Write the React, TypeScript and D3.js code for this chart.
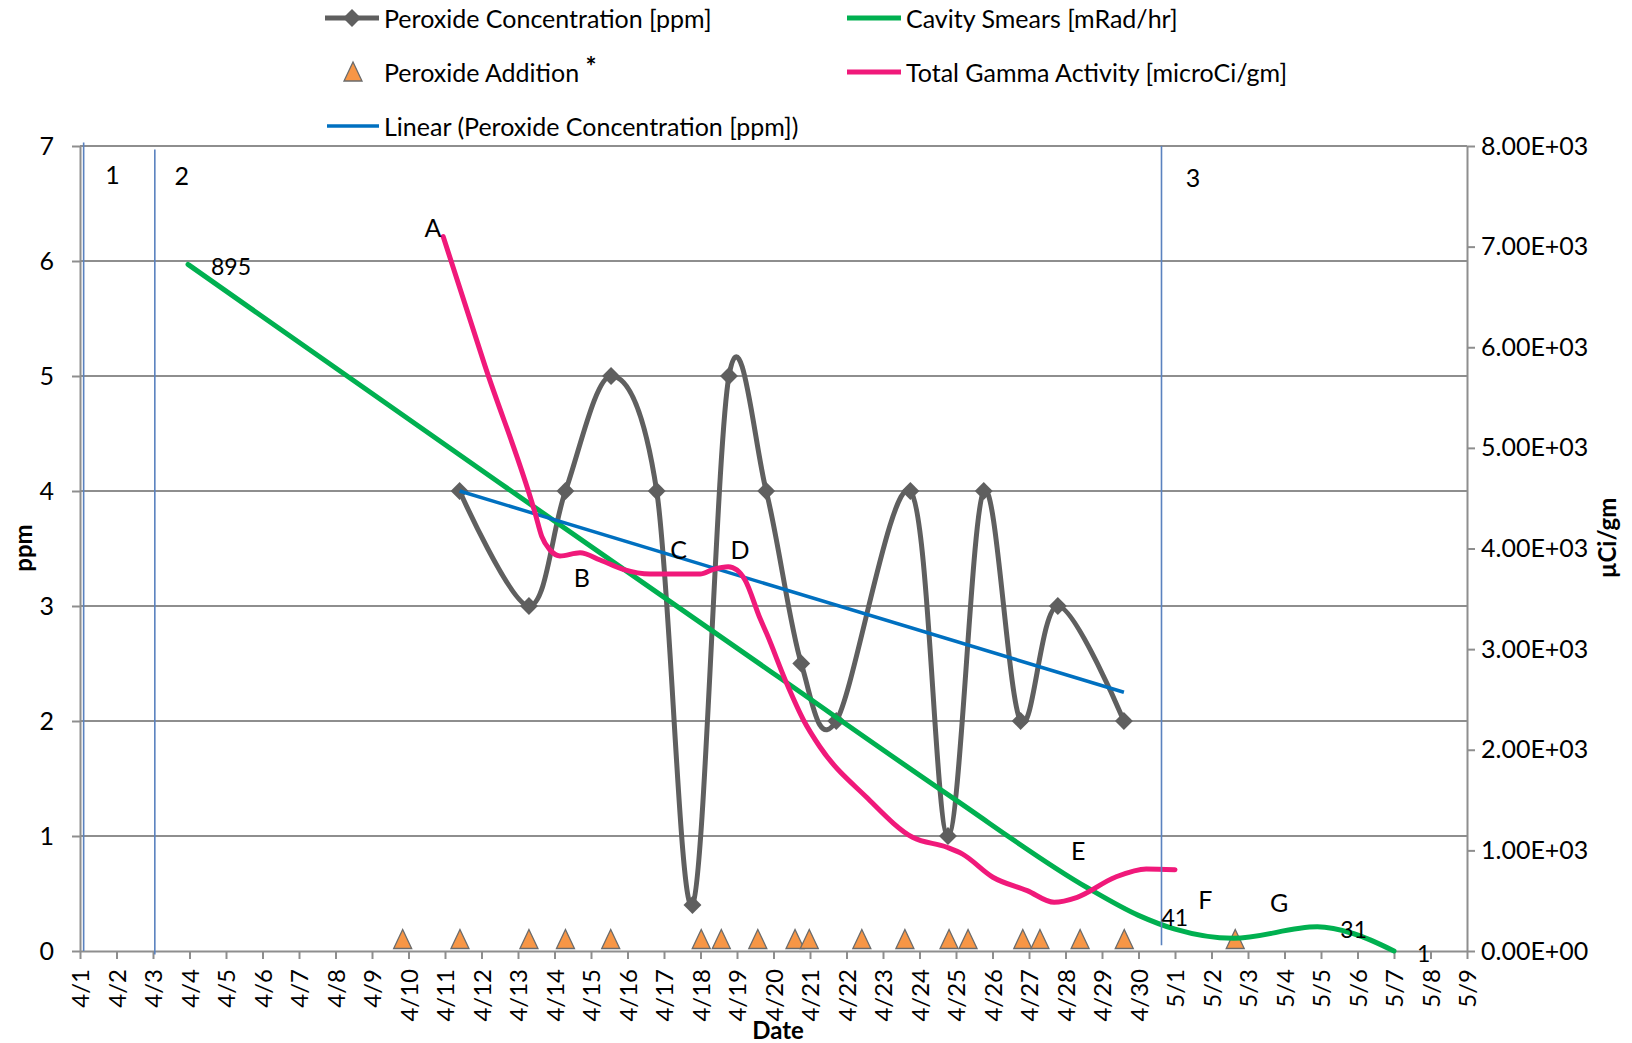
import { useEffect, useRef } from "react";
import * as d3 from "d3";

// x values are days since 4/1 (fractional = time of day)
const dayLabels = [
  "4/1", "4/2", "4/3", "4/4", "4/5", "4/6", "4/7", "4/8", "4/9", "4/10",
  "4/11", "4/12", "4/13", "4/14", "4/15", "4/16", "4/17", "4/18", "4/19", "4/20",
  "4/21", "4/22", "4/23", "4/24", "4/25", "4/26", "4/27", "4/28", "4/29", "4/30",
  "5/1", "5/2", "5/3", "5/4", "5/5", "5/6", "5/7", "5/8", "5/9",
];
const ppmTicks = [0, 1, 2, 3, 4, 5, 6, 7];
const gammaTicks = [0, 1000, 2000, 3000, 4000, 5000, 6000, 7000, 8000];

// Peroxide Concentration [ppm]
const peroxideConc: [number, number][] = [
  [10.4, 4], [12.3, 3], [13.3, 4], [14.55, 5], [15.8, 4], [16.78, 0.4],
  [17.78, 5], [18.8, 4], [19.76, 2.5], [20.72, 2], [22.75, 4], [23.78, 1],
  [24.76, 4], [25.77, 2], [26.79, 3], [28.6, 2],
];

// Linear (Peroxide Concentration [ppm]) end points
const peroxideTrend: [number, number][] = [[10.4, 4.0], [28.6, 2.25]];

// Peroxide Addition * (days), drawn at a fixed level
const peroxideAdditions = [
  8.84, 10.41, 12.3, 13.3, 14.54, 17.02, 17.57, 18.57, 19.59, 19.98,
  21.42, 22.6, 23.81, 24.33, 25.83, 26.3, 27.4, 28.61, 31.65,
];
const additionLevel = 0.1;

// Cavity Smears [mRad/hr], drawn against the ppm axis
const cavitySmears: [number, number][] = [
  [2.96, 5.97], [11.5, 4.07], [19.15, 2.38], [23.87, 1.34], [27.6, 0.55],
  [29.0, 0.31], [30.0, 0.19], [31.6, 0.11], [33.9, 0.21], [34.9, 0.15], [36.0, 0.0],
];
const cavitySmearLabels = [
  { at: 0, text: "895" },
  { at: 5, text: "41" },
  { at: 8, text: "31" },
  { at: 10, text: "1" },
];

// Total Gamma Activity [microCi/gm]
const gammaActivity: [number, number][] = [
  [9.95, 7100], [11.1, 5810], [12.47, 4350], [12.65, 4120], [12.88, 3985],
  [13.15, 3926], [13.7, 3958], [14.25, 3886], [14.88, 3793], [15.62, 3747],
  [16.99, 3747], [17.35, 3793], [17.76, 3819], [18.0, 3786], [18.22, 3687],
  [18.63, 3306], [18.81, 3157], [19.36, 2660], [19.82, 2296], [20.27, 2030],
  [21.55, 1528], [22.81, 1130], [23.75, 1031], [24.17, 965], [25.01, 733],
  [25.95, 600], [26.69, 484], [27.32, 534], [28.36, 733], [29.21, 816], [30.0, 808],
];

// period separators (day, ppm top, ppm bottom) and their labels
const periodLines = [
  { day: 0.1, top: 7.03, bottom: 0 },
  { day: 2.05, top: 6.97, bottom: -0.03 },
  { day: 29.63, top: 7.0, bottom: 0.05 },
];
const periodLabels = [
  { text: "1", day: 0.89, ppm: 6.76 },
  { text: "2", day: 2.79, ppm: 6.75 },
  { text: "3", day: 30.49, ppm: 6.73 },
];
const eventLabels = [
  { text: "A", day: 9.67, ppm: 6.3 },
  { text: "B", day: 13.75, ppm: 3.25 },
  { text: "C", day: 16.4, ppm: 3.5 },
  { text: "D", day: 18.08, ppm: 3.5 },
  { text: "E", day: 27.35, ppm: 0.88 },
  { text: "F", day: 30.83, ppm: 0.45 },
  { text: "G", day: 32.85, ppm: 0.43 },
];

const W = 1632;
const H = 1043;
const FONT = "Lato, 'Open Sans', sans-serif";
const GRID = "#8e8e8e";
const GRAY = "#5f5f5f";
const GREEN = "#00b050";
const PINK = "#f0197a";
const BLUE = "#0070c0";
const SEP = "#5a82bf";
const ORANGE = "#f79646";

function sci(v: number) {
  if (v === 0) return "0.00E+00";
  const e = Math.floor(Math.log10(v));
  const m = v / Math.pow(10, e);
  return `${m.toFixed(2)}E+${String(e).padStart(2, "0")}`;
}

export default function App() {
  const svgRef = useRef<SVGSVGElement>(null);

  useEffect(() => {
    if (!svgRef.current) return;
    const svg = d3.select(svgRef.current);
    svg.selectAll("*").remove();

    const margin = { top: 146, right: 165, bottom: 92, left: 80 };
    const x = d3.scaleLinear().domain([0, dayLabels.length - 1]).range([margin.left, W - margin.right]);
    const y = d3.scaleLinear().domain([0, 7]).range([H - margin.bottom, margin.top]);
    const y2 = d3.scaleLinear().domain([0, 8000]).range([H - margin.bottom, margin.top]);

    svg.append("rect").attr("width", W).attr("height", H).attr("fill", "#fff");

    // horizontal gridlines
    svg.append("g")
      .selectAll("line")
      .data(ppmTicks.slice(1))
      .join("line")
      .attr("x1", x(0)).attr("x2", x(dayLabels.length - 1))
      .attr("y1", d => y(d)).attr("y2", d => y(d))
      .attr("stroke", GRID).attr("stroke-width", 2);

    const styleAxis = (sel: d3.Selection<SVGGElement, unknown, null, undefined>, size: number) => {
      sel.attr("font-family", FONT).attr("font-size", size);
      sel.select(".domain").attr("stroke", GRID).attr("stroke-width", 2);
      sel.selectAll(".tick line").attr("stroke", GRID).attr("stroke-width", 2);
      sel.selectAll(".tick text").attr("fill", "#000");
    };

    const left = svg.append("g")
      .attr("transform", `translate(${margin.left},0)`)
      .call(d3.axisLeft(y).tickValues(ppmTicks).tickSize(8).tickSizeOuter(0).tickPadding(18).tickFormat(d3.format("d")));
    styleAxis(left, 25);

    const right = svg.append("g")
      .attr("transform", `translate(${W - margin.right},0)`)
      .call(d3.axisRight(y2).tickValues(gammaTicks).tickSize(8).tickSizeOuter(0).tickPadding(6).tickFormat(d => sci(d as number)));
    styleAxis(right, 25);

    const bottom = svg.append("g")
      .attr("transform", `translate(0,${H - margin.bottom})`)
      .call(d3.axisBottom(x).tickValues(d3.range(dayLabels.length)).tickSize(8).tickSizeOuter(0).tickFormat(i => dayLabels[i as number]));
    styleAxis(bottom, 24);
    bottom.selectAll(".tick text")
      .attr("transform", "rotate(-90)")
      .attr("text-anchor", "end")
      .attr("x", -18)
      .attr("y", 0)
      .attr("dy", "0.36em");

    // axis titles
    svg.append("text")
      .attr("transform", `translate(22,548) rotate(-90)`)
      .attr("text-anchor", "middle").attr("dominant-baseline", "central")
      .attr("font-family", FONT).attr("font-size", 24).attr("font-weight", "bold")
      .text("ppm");
    svg.append("text")
      .attr("transform", `translate(1606,538) rotate(-90)`)
      .attr("text-anchor", "middle").attr("dominant-baseline", "central")
      .attr("font-family", FONT).attr("font-size", 24).attr("font-weight", "bold")
      .text("µCi/gm");
    svg.append("text")
      .attr("x", 778).attr("y", 1029)
      .attr("text-anchor", "middle").attr("dominant-baseline", "central")
      .attr("font-family", FONT).attr("font-size", 24).attr("font-weight", "bold")
      .text("Date");

    // Peroxide Concentration (smoothed)
    const concLine = d3.line<[number, number]>()
      .x(d => x(d[0])).y(d => y(d[1]))
      .curve(d3.curveCatmullRom.alpha(0));
    svg.append("path")
      .datum(peroxideConc)
      .attr("fill", "none").attr("stroke", GRAY).attr("stroke-width", 5)
      .attr("d", concLine);

    const diamond = d3.symbol(d3.symbolSquare, 160);
    svg.append("g")
      .selectAll("path")
      .data(peroxideConc)
      .join("path")
      .attr("transform", d => `translate(${x(d[0])},${y(d[1])}) rotate(45)`)
      .attr("d", diamond)
      .attr("fill", GRAY);

    // Peroxide additions
    svg.append("g")
      .selectAll("path")
      .data(peroxideAdditions)
      .join("path")
      .attr("d", d => {
        const cx = x(d);
        const cy = y(additionLevel);
        return `M${cx},${cy - 10}L${cx + 9},${cy + 9}L${cx - 9},${cy + 9}Z`;
      })
      .attr("fill", ORANGE).attr("stroke", "#6b6b6b").attr("stroke-width", 1.3);

    // Cavity smears
    const smearLine = d3.line<[number, number]>()
      .x(d => x(d[0])).y(d => y(d[1]))
      .curve(d3.curveMonotoneX);
    svg.append("path")
      .datum(cavitySmears)
      .attr("fill", "none").attr("stroke", GREEN).attr("stroke-width", 5)
      .attr("stroke-linecap", "round")
      .attr("d", smearLine);

    // trend line
    svg.append("path")
      .datum(peroxideTrend)
      .attr("fill", "none").attr("stroke", BLUE).attr("stroke-width", 3.5)
      .attr("d", d3.line<[number, number]>().x(d => x(d[0])).y(d => y(d[1])));

    // Total gamma activity (right axis)
    const gammaLine = d3.line<[number, number]>()
      .x(d => x(d[0])).y(d => y2(d[1]))
      .curve(d3.curveMonotoneX);
    svg.append("path")
      .datum(gammaActivity)
      .attr("fill", "none").attr("stroke", PINK).attr("stroke-width", 5)
      .attr("stroke-linecap", "round")
      .attr("d", gammaLine);

    // period separators
    svg.append("g")
      .selectAll("line")
      .data(periodLines)
      .join("line")
      .attr("x1", d => x(d.day)).attr("x2", d => x(d.day))
      .attr("y1", d => y(d.top)).attr("y2", d => y(d.bottom))
      .attr("stroke", SEP).attr("stroke-width", 1.6);

    const textG = svg.append("g")
      .attr("font-family", FONT).attr("font-size", 25).attr("fill", "#000");

    textG.selectAll("text.period")
      .data([...periodLabels, ...eventLabels])
      .join("text")
      .attr("class", "period")
      .attr("x", d => x(d.day)).attr("y", d => y(d.ppm))
      .attr("text-anchor", "middle").attr("dominant-baseline", "central")
      .text(d => d.text);

    textG.selectAll("text.smear")
      .data(cavitySmearLabels)
      .join("text")
      .attr("class", "smear")
      .attr("x", d => x(cavitySmears[d.at][0]) + 23)
      .attr("y", d => y(cavitySmears[d.at][1]) + 2)
      .attr("dominant-baseline", "central")
      .attr("font-size", 23)
      .text(d => d.text);

    // legend
    const leg = svg.append("g").attr("font-family", FONT).attr("font-size", 25);
    const legLine = (x1: number, x2: number, yy: number, color: string, w: number) =>
      leg.append("line").attr("x1", x1).attr("x2", x2).attr("y1", yy).attr("y2", yy)
        .attr("stroke", color).attr("stroke-width", w);
    const legText = (xx: number, yy: number, t: string) =>
      leg.append("text").attr("x", xx).attr("y", yy).attr("dominant-baseline", "central").text(t);

    legLine(325, 379, 18, GRAY, 5);
    leg.append("path").attr("transform", "translate(352,18) rotate(45)").attr("d", diamond).attr("fill", GRAY);
    legText(384, 18, "Peroxide Concentration [ppm]");

    leg.append("path")
      .attr("d", "M353,62L362,81L344,81Z")
      .attr("fill", ORANGE).attr("stroke", "#6b6b6b").attr("stroke-width", 1.3);
    const addText = legText(384, 72, "Peroxide Addition ");
    addText.append("tspan").attr("dy", -6).attr("font-weight", "bold").attr("font-size", 26).text("*");

    legLine(327, 379, 126, BLUE, 3.5);
    legText(384, 126, "Linear (Peroxide Concentration [ppm])");

    legLine(847, 901, 18, GREEN, 5);
    legText(906, 18, "Cavity Smears [mRad/hr]");
    legLine(847, 901, 72, PINK, 5);
    legText(906, 72, "Total Gamma Activity [microCi/gm]");
  }, []);

  return (
    <svg
      ref={svgRef}
      width={W}
      height={H}
      style={{ position: "absolute", left: 0, top: 0, display: "block" }}
    />
  );
}
